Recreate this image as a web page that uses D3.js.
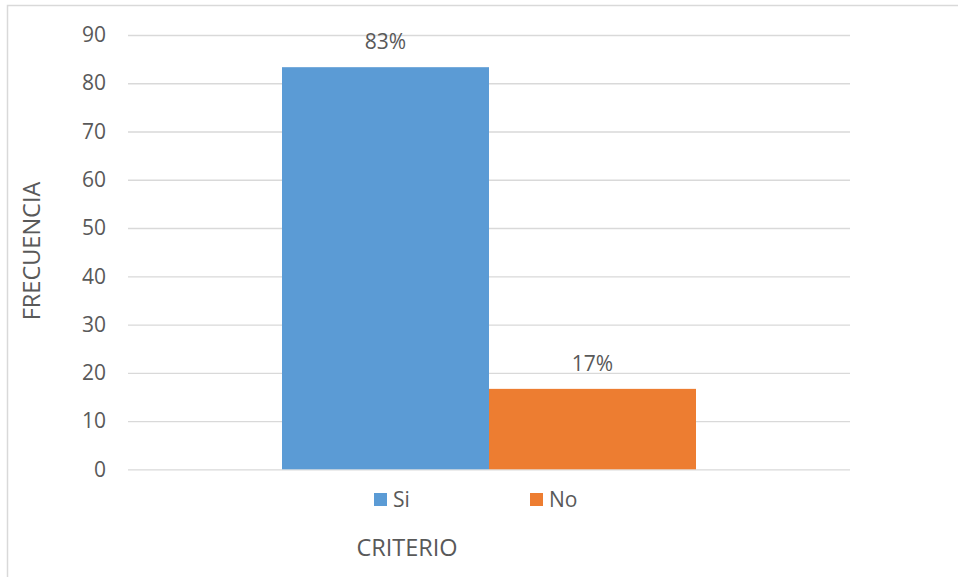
<!DOCTYPE html>
<html><head><meta charset="utf-8">
<script src="https://cdn.jsdelivr.net/npm/d3@7/dist/d3.min.js"></script>
<style>body{margin:0;background:#fff}svg{display:block}text{font-family:"Open Sans",sans-serif;fill:#595959}</style>
</head><body><svg id="c" width="958" height="577"></svg>
<script>
const categories = [""];
const seriesNames = ["Si", "No"];
const seriesValues = [83.33, 16.67];
const dataLabels = ["83%", "17%"];
const yTicks = [0, 10, 20, 30, 40, 50, 60, 70, 80, 90];
const colors = ["#5B9BD5", "#ED7D31"];
const yTitle = "FRECUENCIA";
const xTitle = "CRITERIO";

const svg = d3.select("#c");
svg.append("rect").attr("x", 7.5).attr("y", 5.5).attr("width", 960).attr("height", 580)
  .attr("fill", "#fff").attr("stroke", "#d9d9d9").attr("stroke-width", 1.5);

const L = 128, R = 850, T = 35, B = 469.3;
const y = d3.scaleLinear().domain([0, 90]).range([B, T]);
const x0 = d3.scaleBand().domain(categories).range([L, R]).paddingInner(0).paddingOuter(0.372);
const x1 = d3.scaleBand().domain(seriesNames).range([0, x0.bandwidth()]);

// gridlines
const grid = svg.append("g").attr("transform", `translate(${L},0)`)
  .call(d3.axisLeft(y).tickValues(yTicks).tickSize(-(R - L)).tickFormat(""));
grid.select(".domain").remove();
grid.selectAll("line").attr("stroke", "#d9d9d9").attr("stroke-width", 1.3);

// y labels
const ya = svg.append("g").attr("transform", `translate(${L},0)`)
  .call(d3.axisLeft(y).tickValues(yTicks).tickSize(0).tickPadding(22));
ya.select(".domain").remove();
ya.selectAll("text").style("font-size", "21px").attr("fill", "#595959").style("font-family", '"Open Sans",sans-serif');

// bars
const g = svg.append("g").attr("transform", `translate(${x0(categories[0])},0)`);
g.selectAll("rect").data(seriesNames).join("rect")
  .attr("x", d => x1(d)).attr("width", x1.bandwidth())
  .attr("y", (d, i) => y(seriesValues[i])).attr("height", (d, i) => B - y(seriesValues[i]))
  .attr("fill", (d, i) => colors[i]);
g.selectAll("text.lbl").data(seriesNames).join("text").attr("class", "lbl")
  .attr("x", d => x1(d) + x1.bandwidth() / 2)
  .attr("y", (d, i) => y(seriesValues[i]) - 18)
  .attr("text-anchor", "middle").style("font-size", "21px")
  .text((d, i) => dataLabels[i]);

// legend
const legX = [374, 530];
const leg = svg.append("g");
seriesNames.forEach((s, i) => {
  leg.append("rect").attr("x", legX[i]).attr("y", 493).attr("width", 13).attr("height", 13).attr("fill", colors[i]);
  leg.append("text").attr("x", legX[i] + 19).attr("y", 507).style("font-size", "21px").text(s);
});

// axis titles
svg.append("text").attr("x", 407).attr("y", 556).attr("text-anchor", "middle").style("font-size", "23.5px").text(xTitle);
svg.append("text").attr("transform", "translate(40,251) rotate(-90)").attr("text-anchor", "middle").style("font-size", "23.5px").text(yTitle);
</script></body></html>
